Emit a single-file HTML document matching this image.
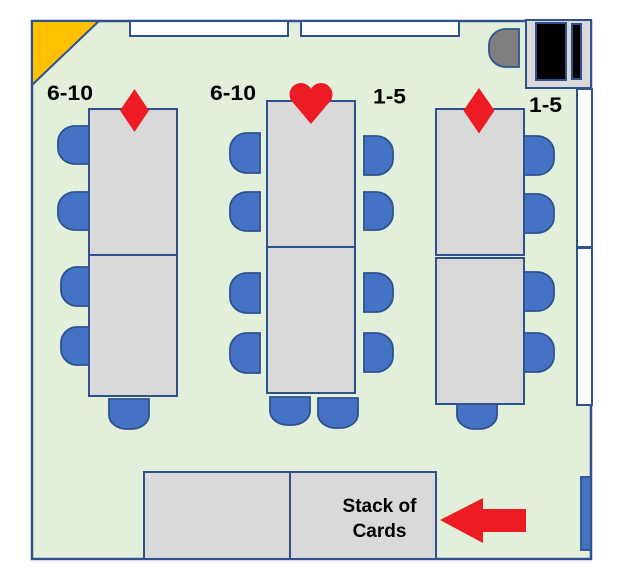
<!DOCTYPE html>
<html><head><meta charset="utf-8"><style>
html,body{margin:0;padding:0;background:#fff;}
svg{display:block;}
text{font-family:"Liberation Sans",Arial,sans-serif;font-weight:bold;fill:#000;}
</style></head><body>
<svg width="620" height="584" viewBox="0 0 620 584" xmlns="http://www.w3.org/2000/svg">
<!-- room -->
<rect x="32" y="21" width="559" height="538" fill="#E2EFDA" stroke="#2F528F" stroke-width="2.5"/>
<polygon points="32,21 99,21 32,85" fill="#FFC000" stroke="#2F528F" stroke-width="2"/>
<!-- top windows -->
<rect x="130" y="21" width="158" height="15" fill="#fff" stroke="#2F528F" stroke-width="2"/>
<rect x="301" y="21" width="158" height="15" fill="#fff" stroke="#2F528F" stroke-width="2"/>
<!-- right windows -->
<rect x="577" y="89" width="15" height="158" fill="#fff" stroke="#2F528F" stroke-width="2"/>
<rect x="577" y="248" width="15" height="157" fill="#fff" stroke="#2F528F" stroke-width="2"/>
<!-- door box -->
<rect x="526" y="20" width="65" height="68" fill="#D9D9D9" stroke="#2F528F" stroke-width="2"/>
<rect x="536" y="23" width="30" height="57" fill="#000" stroke="#2F528F" stroke-width="2"/>
<rect x="572" y="24" width="9" height="55" fill="#000" stroke="#2F528F" stroke-width="2"/>
<!-- gray chair -->
<path d="M519,29 H506 A17 16 0 0 0 489,45 V51 A17 16 0 0 0 506,67 H519 Z" fill="#7F7F7F" stroke="#2F528F" stroke-width="1.8"/>
<!-- bottom right blue -->
<rect x="581" y="477" width="10" height="73" fill="#4472C4" stroke="#2F528F" stroke-width="1.8"/>

<g fill="#4472C4" stroke="#2F528F" stroke-width="1.8">
<!-- table 1 chairs -->
<path d="M89,126 H75 A17 16 0 0 0 58,142 V148 A17 16 0 0 0 75,164 H89 Z"/>
<path d="M89,192 H75 A17 16 0 0 0 58,208 V214 A17 16 0 0 0 75,230 H89 Z"/>
<path d="M89,267 H77 A16 16 0 0 0 61,283 V290 A16 16 0 0 0 77,306 H89 Z"/>
<path d="M89,327 H77 A16 16 0 0 0 61,343 V349 A16 16 0 0 0 77,365 H89 Z"/>
<path d="M109,399 H149 V415 A18 14 0 0 1 131,429 H127 A18 14 0 0 1 109,415 Z"/>
<!-- table 2 chairs -->
<path d="M260,133 H247 A17 16 0 0 0 230,149 V157 A17 16 0 0 0 247,173 H260 Z"/>
<path d="M260,192 H247 A17 16 0 0 0 230,208 V215 A17 16 0 0 0 247,231 H260 Z"/>
<path d="M260,273 H247 A17 16 0 0 0 230,289 V297 A17 16 0 0 0 247,313 H260 Z"/>
<path d="M260,333 H247 A17 16 0 0 0 230,349 V357 A17 16 0 0 0 247,373 H260 Z"/>
<path d="M364,136 H376 A17 16 0 0 1 393,152 V159 A17 16 0 0 1 376,175 H364 Z"/>
<path d="M364,192 H376 A17 16 0 0 1 393,208 V214 A17 16 0 0 1 376,230 H364 Z"/>
<path d="M364,273 H376 A17 16 0 0 1 393,289 V296 A17 16 0 0 1 376,312 H364 Z"/>
<path d="M364,333 H376 A17 16 0 0 1 393,349 V356 A17 16 0 0 1 376,372 H364 Z"/>
<path d="M270,397 H310 V411 A18 14 0 0 1 292,425 H288 A18 14 0 0 1 270,411 Z"/>
<path d="M318,398 H358 V414 A18 14 0 0 1 340,428 H336 A18 14 0 0 1 318,414 Z"/>
<!-- table 3 chairs -->
<path d="M524,136 H537 A17 16 0 0 1 554,152 V159 A17 16 0 0 1 537,175 H524 Z"/>
<path d="M524,194 H537 A17 16 0 0 1 554,210 V217 A17 16 0 0 1 537,233 H524 Z"/>
<path d="M524,272 H537 A17 16 0 0 1 554,288 V295 A17 16 0 0 1 537,311 H524 Z"/>
<path d="M524,333 H537 A17 16 0 0 1 554,349 V356 A17 16 0 0 1 537,372 H524 Z"/>
<path d="M457,402 H497 V415 A18 14 0 0 1 479,429 H475 A18 14 0 0 1 457,415 Z"/>
</g>

<g fill="#D9D9D9" stroke="#2F528F" stroke-width="2">
<!-- table 1 -->
<rect x="89" y="109" width="88" height="146"/>
<rect x="89" y="255" width="88" height="141"/>
<!-- table 2 -->
<rect x="267" y="101" width="88" height="146"/>
<rect x="267" y="247" width="88" height="146"/>
<!-- table 3 -->
<rect x="436" y="109" width="88" height="146"/>
<rect x="436" y="258" width="88" height="146"/>
<!-- bottom tables -->
<rect x="144" y="472" width="146" height="87"/>
<rect x="290" y="472" width="146" height="87"/>
</g>

<!-- suits -->
<polygon points="134.5,89 149,110.5 134.5,132 120,110.5" fill="#ED1C24"/>
<polygon points="479,88 494.5,110.5 479,133.5 463.5,110.5" fill="#ED1C24"/>
<g fill="#ED1C24">
<circle cx="301" cy="94.5" r="11.5"/>
<circle cx="321" cy="94.5" r="11.5"/>
<polygon points="290,99 311,124 332,99 311,90"/>
</g>

<!-- arrow -->
<polygon points="440,520 483,498 483,509 526,509 526,532 483,532 483,543" fill="#ED1C24"/>

<!-- labels -->
<text x="47" y="100" font-size="21" textLength="46" lengthAdjust="spacingAndGlyphs">6-10</text>
<text x="210" y="100" font-size="21" textLength="46" lengthAdjust="spacingAndGlyphs">6-10</text>
<text x="373" y="103.5" font-size="21" textLength="33" lengthAdjust="spacingAndGlyphs">1-5</text>
<text x="529" y="112" font-size="21" textLength="33" lengthAdjust="spacingAndGlyphs">1-5</text>
<text x="379.5" y="512" font-size="19" text-anchor="middle">Stack of</text>
<text x="379.5" y="537" font-size="19" text-anchor="middle">Cards</text>
</svg>
</body></html>
